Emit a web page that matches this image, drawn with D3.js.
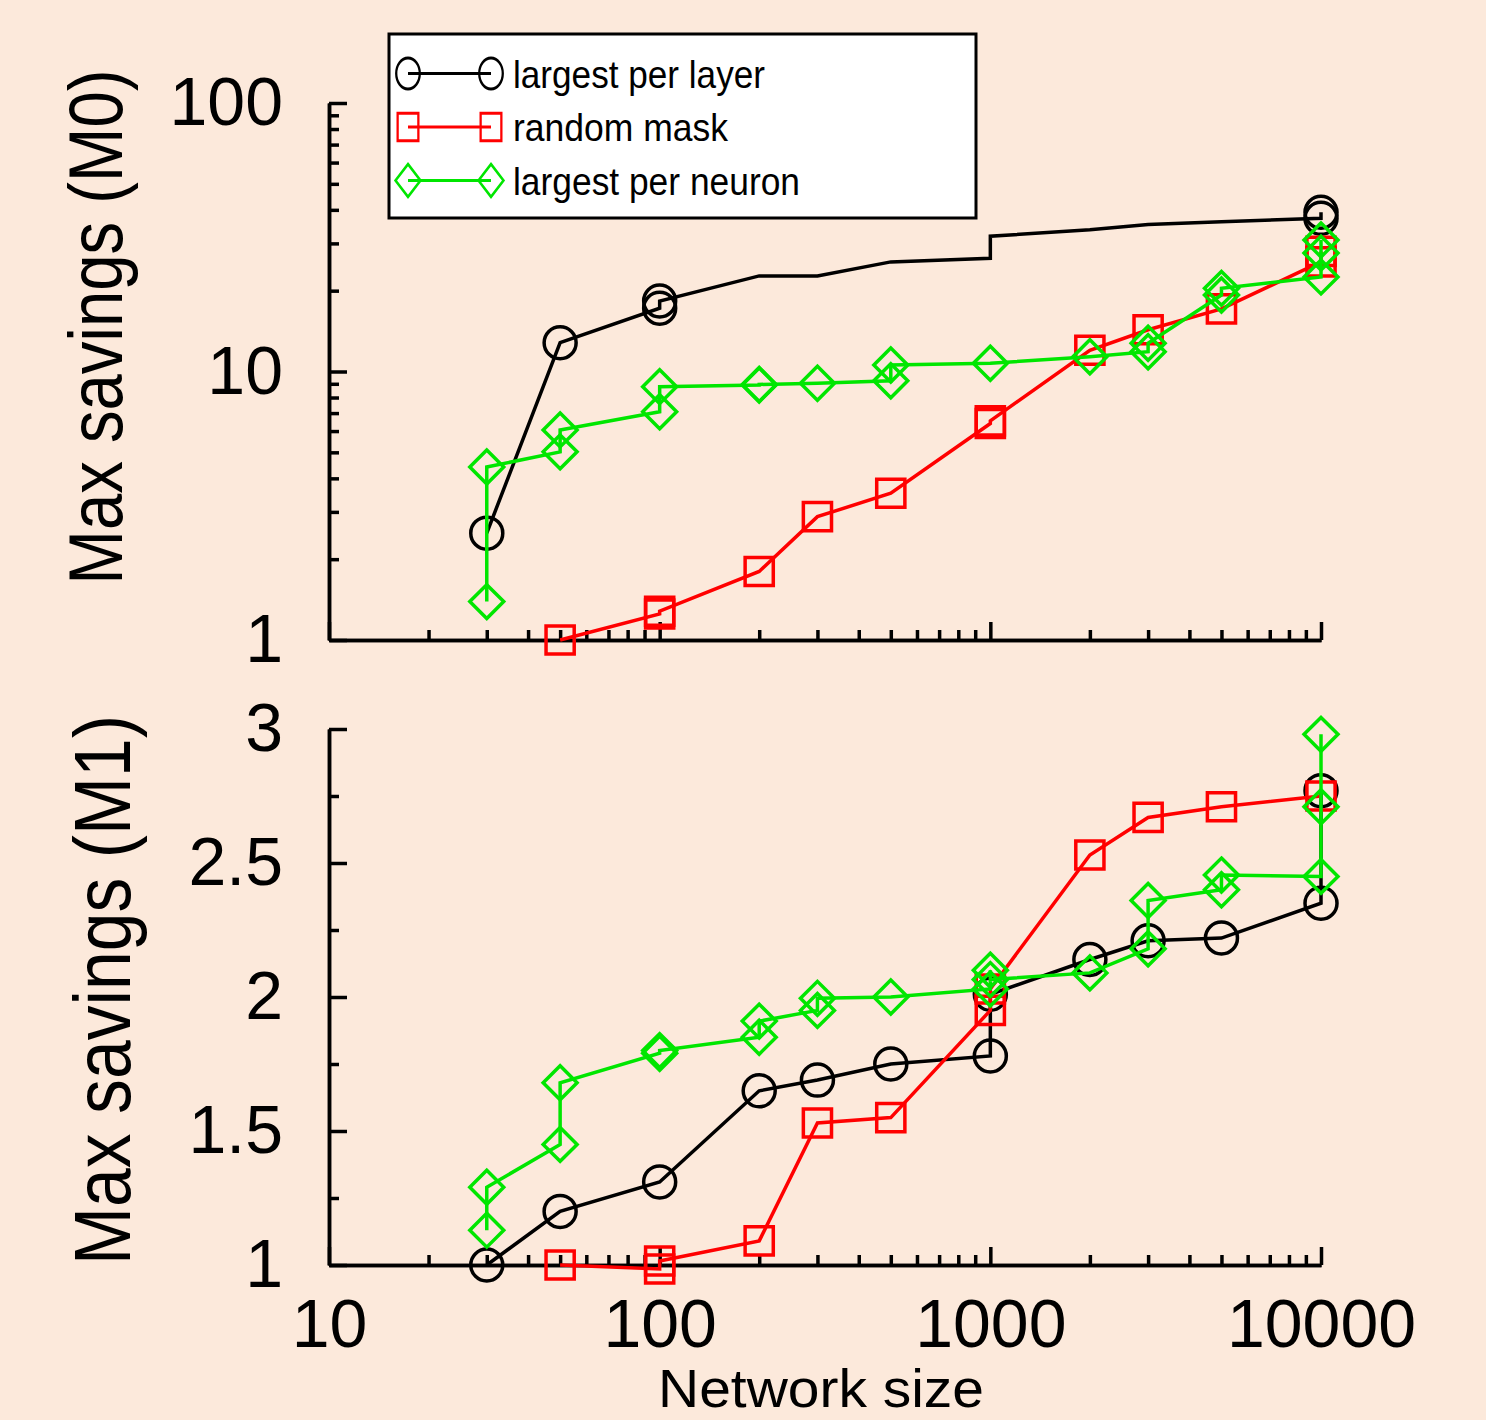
<!DOCTYPE html>
<html>
<head>
<meta charset="utf-8">
<script src="https://cdn.jsdelivr.net/npm/d3@7"></script>
<style>
  body { margin: 0; background: #fce9db; }
  svg { display: block; }
  text { font-family: Arial, "Liberation Sans", sans-serif; fill: #000; }
</style>
</head>
<body>
<svg id="chart" width="1486" height="1420"></svg>
<script>
// ---- data ----
var seriesNames = ['largest per layer', 'random mask', 'largest per neuron']
var seriesColors = ['#000000', '#ff0000', '#00e600']
var legendWidths = [252, 215, 287]
var xTicks = [10, 100, 1000, 10000]
var topTicks = [1, 10, 100]
var botTicks = [1, 1.5, 2, 2.5, 3]
var botMinor = [1.25, 1.75, 2.25, 2.75]

// top panel, Max savings (M0)
var layerTopX = [30, 50, 100, 100, 200, 300, 500, 1000, 1000, 2000, 3000, 5000, 10000, 10000]
var layerTopY = [2.5, 12.8, 17.2, 18.3, 22.7, 22.7, 25.6, 26.4, 31.9, 33.7, 35.3, 36.1, 37.2, 39.2]
var layerTopMark = [1, 1, 1, 1, 0, 0, 0, 0, 0, 0, 0, 0, 1, 1]
var randomTopX = [50, 100, 100, 200, 300, 500, 1000, 1000, 2000, 3000, 5000, 10000, 10000]
var randomTopY = [1.0, 1.25, 1.28, 1.80, 2.88, 3.52, 6.4, 6.55, 12.0, 14.3, 17.1, 25.6, 28.0]
var neuronTopX = [30, 30, 50, 50, 100, 100, 200, 200, 300, 500, 500, 1000, 2000, 3000, 3000, 5000, 5000, 10000, 10000, 10000]
var neuronTopY = [1.39, 4.41, 5.02, 6.06, 7.08, 8.78, 8.91, 8.95, 9.04, 9.24, 10.57, 10.73, 11.35, 11.85, 12.74, 19.27, 20.4, 22.5, 27.6, 30.9]

// bottom panel, Max savings (M1)
var layerBotX = [30, 50, 100, 200, 300, 500, 1000, 1000, 2000, 3000, 5000, 10000, 10000]
var layerBotY = [1.0, 1.20, 1.31, 1.65, 1.69, 1.75, 1.78, 2.01, 2.14, 2.21, 2.22, 2.35, 2.77]
var randomBotX = [50, 100, 100, 200, 300, 500, 1000, 1000, 2000, 3000, 5000, 10000]
var randomBotY = [1.0, 0.985, 1.015, 1.09, 1.53, 1.55, 1.95, 2.03, 2.53, 2.67, 2.71, 2.75]
var neuronBotX = [30, 30, 50, 50, 100, 100, 200, 200, 300, 300, 500, 1000, 1000, 1000, 2000, 3000, 3000, 5000, 5000, 10000, 10000, 10000]
var neuronBotY = [1.13, 1.29, 1.45, 1.68, 1.79, 1.80, 1.85, 1.91, 1.95, 1.995, 2.0, 2.03, 2.10, 2.065, 2.09, 2.18, 2.36, 2.40, 2.455, 2.45, 2.71, 2.98]

var svg = d3.select('#chart')
svg.append('rect').attr('width', 1486).attr('height', 1420).attr('fill', '#fce9db')

var x = d3.scaleLog().domain([10, 10000]).range([329, 1321])
var yTop = d3.scaleLog().domain([1, 100]).range([640, 103])
var yBot = d3.scaleLinear().domain([1, 3]).range([1265, 729])

function markerPath(shape, s) {
	var p = d3.path()
	if (shape === 0) {
		p.arc(0, 0, s, 0, 2 * Math.PI)
	} else if (shape === 1) {
		p.rect(-s * 0.88, -s * 0.88, s * 1.76, s * 1.76)
	} else {
		p.moveTo(0, -s * 1.06); p.lineTo(s * 1.06, 0); p.lineTo(0, s * 1.06); p.lineTo(-s * 1.06, 0); p.closePath()
	}
	return p.toString()
}

function styleAxis(g) {
	g.select('.domain').attr('stroke', '#000').attr('stroke-width', 3.5)
	g.selectAll('.tick line').attr('stroke', '#000').attr('stroke-width', 3.5)
	g.selectAll('.tick text').style('font-size', '68px').attr('fill', '#000')
}

var xMinor = x.ticks().filter(function(d) { return xTicks.indexOf(d) < 0 })

function drawXAxis(yPos, labels) {
	svg.append('g').attr('transform', 'translate(0,' + yPos + ')')
	   .call(d3.axisBottom(x).tickValues(xMinor).tickSize(-10).tickSizeOuter(0).tickFormat(''))
	   .call(styleAxis)
	svg.append('g').attr('transform', 'translate(0,' + yPos + ')')
	   .call(d3.axisBottom(x).tickValues(xTicks).tickSize(-18).tickSizeOuter(0).tickPadding(34)
	   .tickFormat(labels ? d3.format('d') : ''))
	   .call(styleAxis)
}

// top y axis
var yTopMinor = yTop.ticks().filter(function(d) { return topTicks.indexOf(d) < 0 })
svg.append('g').attr('transform', 'translate(329,0)')
   .call(d3.axisLeft(yTop).tickValues(yTopMinor).tickSize(-10).tickSizeOuter(0).tickFormat(''))
   .call(styleAxis)
svg.append('g').attr('transform', 'translate(329,0)')
   .call(d3.axisLeft(yTop).tickValues(topTicks).tickSize(-18).tickSizeOuter(0).tickPadding(46).tickFormat(d3.format('d')))
   .call(styleAxis)
drawXAxis(640, false)

// bottom y axis
svg.append('g').attr('transform', 'translate(329,0)')
   .call(d3.axisLeft(yBot).tickValues(botMinor).tickSize(-10).tickSizeOuter(0).tickFormat(''))
   .call(styleAxis)
svg.append('g').attr('transform', 'translate(329,0)')
   .call(d3.axisLeft(yBot).tickValues(botTicks).tickSize(-18).tickSizeOuter(0).tickPadding(46).tickFormat(d3.format('~g')))
   .call(styleAxis)
drawXAxis(1265, true)

function drawSeries(xs, ys, marks, y, idx) {
	var pts = xs.map(function(d, i) { return [x(d), y(ys[i]), marks ? marks[i] : 1] })
	var line = d3.line().x(function(d) { return d[0] }).y(function(d) { return d[1] })
	svg.append('path').attr('d', line(pts))
	   .attr('fill', 'none').attr('stroke', seriesColors[idx]).attr('stroke-width', 3.5)
	svg.append('g').selectAll('path')
	   .data(pts.filter(function(d) { return d[2] }))
	   .enter()
	   .append('path')
	   .attr('transform', function(d) { return 'translate(' + d[0] + ',' + d[1] + ')' })
	   .attr('d', markerPath(idx, 16))
	   .attr('fill', 'none').attr('stroke', seriesColors[idx]).attr('stroke-width', 3.5)
}

drawSeries(layerTopX, layerTopY, layerTopMark, yTop, 0)
drawSeries(randomTopX, randomTopY, null, yTop, 1)
drawSeries(neuronTopX, neuronTopY, null, yTop, 2)
drawSeries(layerBotX, layerBotY, null, yBot, 0)
drawSeries(randomBotX, randomBotY, null, yBot, 1)
drawSeries(neuronBotX, neuronBotY, null, yBot, 2)

// axis titles, squeezed horizontally with a scale so the box stays true
function squeezedTitle(label, size, cx, cy, len, rot) {
	var t = svg.append('text').attr('text-anchor', 'middle').style('font-size', size + 'px').text(label)
	var k = len / t.node().getComputedTextLength()
	t.attr('transform', 'translate(' + cx + ',' + cy + ')' + (rot ? ' rotate(-90)' : '') + ' scale(' + k + ',1)')
}
squeezedTitle('Max savings (M0)', 76, 122, 327, 515, true)
squeezedTitle('Max savings (M1)', 80, 130, 990, 550, true)
squeezedTitle('Network size', 54, 821, 1407, 326, false)

// legend
var legend = svg.append('g')
legend.append('rect').attr('x', 389).attr('y', 34).attr('width', 587).attr('height', 184)
   .attr('fill', '#fff').attr('stroke', '#000').attr('stroke-width', 3)
var rows = legend.selectAll('g.row').data(seriesNames).enter().append('g')
   .attr('transform', function(d, i) { return 'translate(0,' + (73.5 + i * 53.5) + ')' })
rows.append('line').attr('x1', 408).attr('x2', 491)
   .attr('stroke', function(d, i) { return seriesColors[i] }).attr('stroke-width', 3)
;[408, 491].forEach(function(mx) {
	rows.append('path')
	   .attr('transform', 'translate(' + mx + ',0) scale(0.76,1)')
	   .attr('d', function(d, i) { return markerPath(i, 15.5) })
	   .attr('fill', 'none').attr('stroke', function(d, i) { return seriesColors[i] })
	   .attr('stroke-width', 3)
})
rows.append('text').attr('x', 513).attr('dy', '0.36em').style('font-size', '39px')
   .attr('textLength', function(d, i) { return legendWidths[i] })
   .attr('lengthAdjust', 'spacingAndGlyphs')
   .text(function(d) { return d })
</script>
</body>
</html>
